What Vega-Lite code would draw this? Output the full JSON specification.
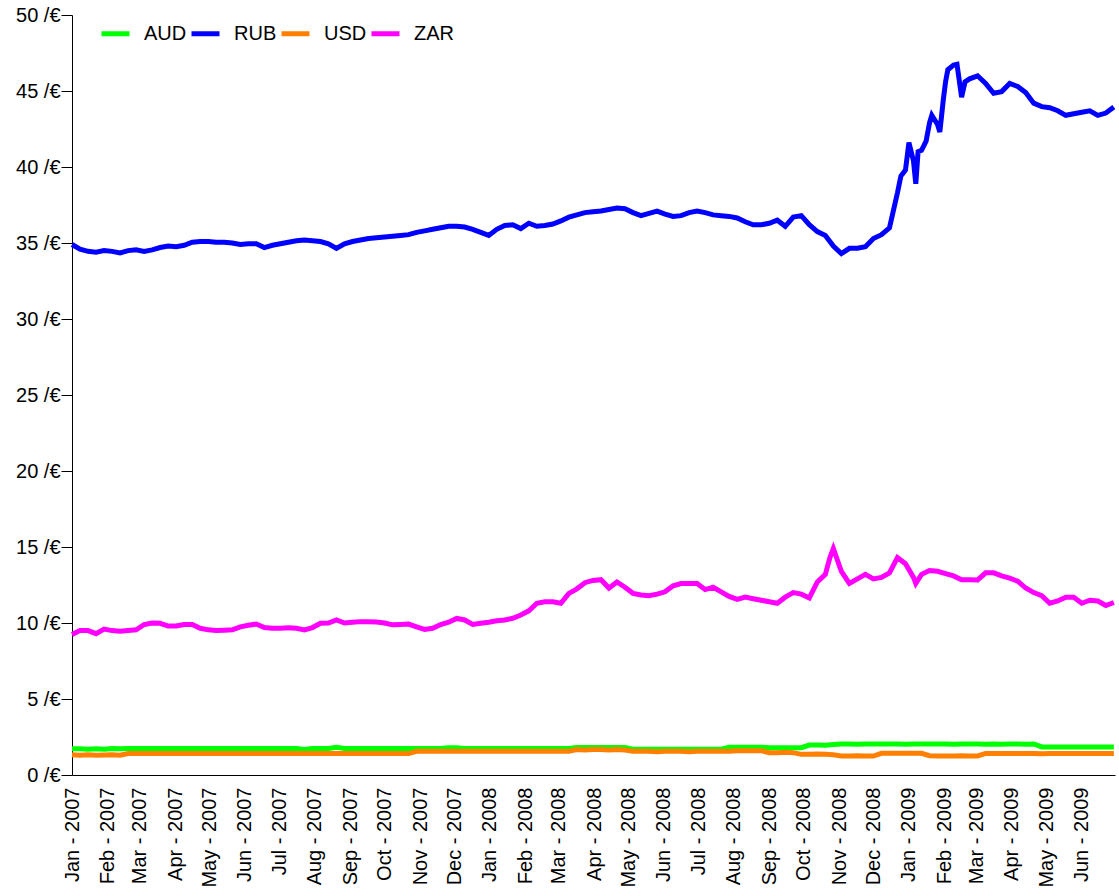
{
"$schema": "https://vega.github.io/schema/vega-lite/v6.json",
"width": 1043, "height": 760,
"autosize": {"type": "none"},
"padding": {"left": 72, "top": 15, "right": 4, "bottom": 121},
"background": "white",
"config": {"view": {"stroke": null}, "font": "Liberation Sans"},
"data": {"values": [
{"d":"2007-01-01","AUD":1.72,"RUB":34.9,"USD":1.33,"ZAR":9.25},
{"d":"2007-01-08","AUD":1.72,"RUB":34.6,"USD":1.30,"ZAR":9.5},
{"d":"2007-01-15","AUD":1.70,"RUB":34.45,"USD":1.33,"ZAR":9.5},
{"d":"2007-01-22","AUD":1.72,"RUB":34.4,"USD":1.30,"ZAR":9.3},
{"d":"2007-01-29","AUD":1.70,"RUB":34.5,"USD":1.31,"ZAR":9.6},
{"d":"2007-02-05","AUD":1.74,"RUB":34.45,"USD":1.33,"ZAR":9.5},
{"d":"2007-02-12","AUD":1.72,"RUB":34.35,"USD":1.30,"ZAR":9.45},
{"d":"2007-02-19","AUD":1.74,"RUB":34.5,"USD":1.41,"ZAR":9.5},
{"d":"2007-02-26","AUD":1.74,"RUB":34.55,"USD":1.41,"ZAR":9.55},
{"d":"2007-03-05","AUD":1.74,"RUB":34.45,"USD":1.41,"ZAR":9.9},
{"d":"2007-03-12","AUD":1.74,"RUB":34.55,"USD":1.41,"ZAR":10.0},
{"d":"2007-03-19","AUD":1.74,"RUB":34.7,"USD":1.41,"ZAR":9.98},
{"d":"2007-03-26","AUD":1.74,"RUB":34.8,"USD":1.41,"ZAR":9.8},
{"d":"2007-04-02","AUD":1.74,"RUB":34.75,"USD":1.41,"ZAR":9.8},
{"d":"2007-04-09","AUD":1.74,"RUB":34.85,"USD":1.41,"ZAR":9.9},
{"d":"2007-04-16","AUD":1.74,"RUB":35.05,"USD":1.41,"ZAR":9.9},
{"d":"2007-04-23","AUD":1.74,"RUB":35.1,"USD":1.41,"ZAR":9.65},
{"d":"2007-04-30","AUD":1.74,"RUB":35.1,"USD":1.41,"ZAR":9.55},
{"d":"2007-05-07","AUD":1.74,"RUB":35.05,"USD":1.41,"ZAR":9.5},
{"d":"2007-05-14","AUD":1.74,"RUB":35.05,"USD":1.41,"ZAR":9.52},
{"d":"2007-05-21","AUD":1.74,"RUB":35.0,"USD":1.41,"ZAR":9.55},
{"d":"2007-05-28","AUD":1.74,"RUB":34.9,"USD":1.41,"ZAR":9.75},
{"d":"2007-06-04","AUD":1.74,"RUB":34.95,"USD":1.41,"ZAR":9.85},
{"d":"2007-06-11","AUD":1.74,"RUB":34.95,"USD":1.41,"ZAR":9.93},
{"d":"2007-06-18","AUD":1.74,"RUB":34.7,"USD":1.41,"ZAR":9.7},
{"d":"2007-06-25","AUD":1.74,"RUB":34.85,"USD":1.41,"ZAR":9.65},
{"d":"2007-07-02","AUD":1.74,"RUB":34.95,"USD":1.41,"ZAR":9.65},
{"d":"2007-07-09","AUD":1.74,"RUB":35.05,"USD":1.41,"ZAR":9.68},
{"d":"2007-07-16","AUD":1.74,"RUB":35.15,"USD":1.41,"ZAR":9.65},
{"d":"2007-07-23","AUD":1.68,"RUB":35.2,"USD":1.41,"ZAR":9.55},
{"d":"2007-07-30","AUD":1.74,"RUB":35.15,"USD":1.41,"ZAR":9.7},
{"d":"2007-08-06","AUD":1.74,"RUB":35.1,"USD":1.41,"ZAR":9.98},
{"d":"2007-08-13","AUD":1.74,"RUB":34.95,"USD":1.41,"ZAR":10.0},
{"d":"2007-08-20","AUD":1.82,"RUB":34.65,"USD":1.41,"ZAR":10.2},
{"d":"2007-08-27","AUD":1.74,"RUB":34.95,"USD":1.41,"ZAR":10.0},
{"d":"2007-09-03","AUD":1.74,"RUB":35.1,"USD":1.41,"ZAR":10.05},
{"d":"2007-09-10","AUD":1.74,"RUB":35.2,"USD":1.41,"ZAR":10.09},
{"d":"2007-09-17","AUD":1.74,"RUB":35.3,"USD":1.41,"ZAR":10.08},
{"d":"2007-09-24","AUD":1.74,"RUB":35.35,"USD":1.41,"ZAR":10.07},
{"d":"2007-10-01","AUD":1.74,"RUB":35.4,"USD":1.41,"ZAR":10.0},
{"d":"2007-10-08","AUD":1.74,"RUB":35.45,"USD":1.41,"ZAR":9.88},
{"d":"2007-10-15","AUD":1.74,"RUB":35.5,"USD":1.41,"ZAR":9.9},
{"d":"2007-10-22","AUD":1.74,"RUB":35.55,"USD":1.41,"ZAR":9.93},
{"d":"2007-10-29","AUD":1.74,"RUB":35.7,"USD":1.56,"ZAR":9.75},
{"d":"2007-11-05","AUD":1.74,"RUB":35.8,"USD":1.56,"ZAR":9.58},
{"d":"2007-11-12","AUD":1.74,"RUB":35.9,"USD":1.56,"ZAR":9.65},
{"d":"2007-11-19","AUD":1.74,"RUB":36.0,"USD":1.56,"ZAR":9.9},
{"d":"2007-11-26","AUD":1.80,"RUB":36.1,"USD":1.56,"ZAR":10.05},
{"d":"2007-12-03","AUD":1.80,"RUB":36.1,"USD":1.56,"ZAR":10.3},
{"d":"2007-12-10","AUD":1.74,"RUB":36.05,"USD":1.56,"ZAR":10.2},
{"d":"2007-12-17","AUD":1.74,"RUB":35.9,"USD":1.56,"ZAR":9.9},
{"d":"2007-12-24","AUD":1.74,"RUB":35.7,"USD":1.56,"ZAR":9.98},
{"d":"2007-12-31","AUD":1.74,"RUB":35.5,"USD":1.56,"ZAR":10.05},
{"d":"2008-01-07","AUD":1.74,"RUB":35.9,"USD":1.56,"ZAR":10.15},
{"d":"2008-01-14","AUD":1.74,"RUB":36.15,"USD":1.56,"ZAR":10.2},
{"d":"2008-01-21","AUD":1.74,"RUB":36.2,"USD":1.56,"ZAR":10.31},
{"d":"2008-01-28","AUD":1.74,"RUB":35.95,"USD":1.56,"ZAR":10.53},
{"d":"2008-02-04","AUD":1.74,"RUB":36.3,"USD":1.56,"ZAR":10.8},
{"d":"2008-02-11","AUD":1.74,"RUB":36.1,"USD":1.56,"ZAR":11.3},
{"d":"2008-02-18","AUD":1.74,"RUB":36.15,"USD":1.56,"ZAR":11.4},
{"d":"2008-02-25","AUD":1.74,"RUB":36.25,"USD":1.56,"ZAR":11.4},
{"d":"2008-03-03","AUD":1.74,"RUB":36.45,"USD":1.56,"ZAR":11.3},
{"d":"2008-03-10","AUD":1.74,"RUB":36.7,"USD":1.56,"ZAR":11.95},
{"d":"2008-03-17","AUD":1.81,"RUB":36.85,"USD":1.67,"ZAR":12.25},
{"d":"2008-03-24","AUD":1.81,"RUB":37.0,"USD":1.64,"ZAR":12.65},
{"d":"2008-03-31","AUD":1.81,"RUB":37.05,"USD":1.67,"ZAR":12.8},
{"d":"2008-04-07","AUD":1.81,"RUB":37.1,"USD":1.67,"ZAR":12.85},
{"d":"2008-04-14","AUD":1.81,"RUB":37.2,"USD":1.64,"ZAR":12.3},
{"d":"2008-04-21","AUD":1.81,"RUB":37.3,"USD":1.67,"ZAR":12.7},
{"d":"2008-04-28","AUD":1.81,"RUB":37.25,"USD":1.64,"ZAR":12.35},
{"d":"2008-05-05","AUD":1.70,"RUB":37.0,"USD":1.56,"ZAR":11.95},
{"d":"2008-05-12","AUD":1.70,"RUB":36.8,"USD":1.56,"ZAR":11.84},
{"d":"2008-05-19","AUD":1.70,"RUB":36.95,"USD":1.56,"ZAR":11.8},
{"d":"2008-05-26","AUD":1.70,"RUB":37.1,"USD":1.53,"ZAR":11.9},
{"d":"2008-06-02","AUD":1.70,"RUB":36.9,"USD":1.56,"ZAR":12.05},
{"d":"2008-06-09","AUD":1.70,"RUB":36.75,"USD":1.56,"ZAR":12.45},
{"d":"2008-06-16","AUD":1.70,"RUB":36.8,"USD":1.56,"ZAR":12.6},
{"d":"2008-06-23","AUD":1.70,"RUB":37.0,"USD":1.53,"ZAR":12.6},
{"d":"2008-06-30","AUD":1.70,"RUB":37.1,"USD":1.56,"ZAR":12.6},
{"d":"2008-07-07","AUD":1.70,"RUB":37.0,"USD":1.56,"ZAR":12.2},
{"d":"2008-07-14","AUD":1.70,"RUB":36.85,"USD":1.56,"ZAR":12.35},
{"d":"2008-07-21","AUD":1.70,"RUB":36.8,"USD":1.56,"ZAR":12.05},
{"d":"2008-07-28","AUD":1.83,"RUB":36.75,"USD":1.56,"ZAR":11.75},
{"d":"2008-08-04","AUD":1.83,"RUB":36.65,"USD":1.60,"ZAR":11.55},
{"d":"2008-08-11","AUD":1.83,"RUB":36.4,"USD":1.60,"ZAR":11.7},
{"d":"2008-08-18","AUD":1.83,"RUB":36.2,"USD":1.60,"ZAR":11.6},
{"d":"2008-08-25","AUD":1.83,"RUB":36.2,"USD":1.60,"ZAR":11.5},
{"d":"2008-09-01","AUD":1.80,"RUB":36.3,"USD":1.47,"ZAR":11.4},
{"d":"2008-09-08","AUD":1.80,"RUB":36.5,"USD":1.47,"ZAR":11.3},
{"d":"2008-09-15","AUD":1.80,"RUB":36.1,"USD":1.50,"ZAR":11.7},
{"d":"2008-09-22","AUD":1.80,"RUB":36.7,"USD":1.47,"ZAR":12.0},
{"d":"2008-09-29","AUD":1.80,"RUB":36.8,"USD":1.36,"ZAR":11.9},
{"d":"2008-10-06","AUD":1.97,"RUB":36.2,"USD":1.36,"ZAR":11.65},
{"d":"2008-10-13","AUD":1.97,"RUB":35.75,"USD":1.38,"ZAR":12.7},
{"d":"2008-10-20","AUD":1.95,"RUB":35.5,"USD":1.36,"ZAR":13.2},
{"d":"2008-10-24","ZAR":14.3},
{"d":"2008-10-27","AUD":2.0,"RUB":34.8,"USD":1.33,"ZAR":14.9},
{"d":"2008-11-03","AUD":2.04,"RUB":34.3,"USD":1.25,"ZAR":13.4},
{"d":"2008-11-10","AUD":2.04,"RUB":34.65,"USD":1.25,"ZAR":12.6},
{"d":"2008-11-17","AUD":2.02,"RUB":34.65,"USD":1.27,"ZAR":12.9},
{"d":"2008-11-24","AUD":2.04,"RUB":34.75,"USD":1.25,"ZAR":13.2},
{"d":"2008-12-01","AUD":2.04,"RUB":35.3,"USD":1.25,"ZAR":12.9},
{"d":"2008-12-08","AUD":2.04,"RUB":35.55,"USD":1.43,"ZAR":13.0},
{"d":"2008-12-15","AUD":2.04,"RUB":36.0,"USD":1.43,"ZAR":13.3},
{"d":"2008-12-22","AUD":2.04,"RUB":38.3,"USD":1.43,"ZAR":14.3},
{"d":"2008-12-25","RUB":39.4},
{"d":"2008-12-29","AUD":2.02,"RUB":39.8,"USD":1.43,"ZAR":13.9},
{"d":"2009-01-01","RUB":41.6},
{"d":"2009-01-05","AUD":2.04,"RUB":40.4,"USD":1.43,"ZAR":13.0},
{"d":"2009-01-07","RUB":38.9,"ZAR":12.6},
{"d":"2009-01-09","RUB":41.0},
{"d":"2009-01-12","AUD":2.04,"RUB":41.1,"USD":1.43,"ZAR":13.2},
{"d":"2009-01-16","RUB":41.7},
{"d":"2009-01-19","AUD":2.04,"RUB":42.9,"USD":1.27,"ZAR":13.45},
{"d":"2009-01-21","RUB":43.4},
{"d":"2009-01-26","AUD":2.04,"RUB":42.8,"USD":1.25,"ZAR":13.4},
{"d":"2009-01-28","RUB":42.3},
{"d":"2009-01-31","RUB":44.4},
{"d":"2009-02-02","AUD":2.04,"RUB":45.6,"USD":1.25,"ZAR":13.25},
{"d":"2009-02-04","RUB":46.4},
{"d":"2009-02-09","AUD":2.02,"RUB":46.7,"USD":1.25,"ZAR":13.1},
{"d":"2009-02-12","RUB":46.75},
{"d":"2009-02-16","AUD":2.04,"RUB":44.6,"USD":1.27,"ZAR":12.85},
{"d":"2009-02-19","RUB":45.6},
{"d":"2009-02-23","AUD":2.04,"RUB":45.8,"USD":1.25,"ZAR":12.85},
{"d":"2009-03-02","AUD":2.04,"RUB":46.0,"USD":1.25,"ZAR":12.83},
{"d":"2009-03-09","AUD":2.02,"RUB":45.5,"USD":1.42,"ZAR":13.3},
{"d":"2009-03-16","AUD":2.04,"RUB":44.85,"USD":1.42,"ZAR":13.3},
{"d":"2009-03-23","AUD":2.02,"RUB":44.96,"USD":1.42,"ZAR":13.1},
{"d":"2009-03-30","AUD":2.04,"RUB":45.5,"USD":1.42,"ZAR":12.95},
{"d":"2009-04-06","AUD":2.04,"RUB":45.3,"USD":1.42,"ZAR":12.75},
{"d":"2009-04-13","AUD":2.02,"RUB":44.9,"USD":1.42,"ZAR":12.3},
{"d":"2009-04-20","AUD":2.04,"RUB":44.2,"USD":1.42,"ZAR":12.0},
{"d":"2009-04-27","AUD":1.85,"RUB":43.97,"USD":1.40,"ZAR":11.8},
{"d":"2009-05-04","AUD":1.85,"RUB":43.9,"USD":1.42,"ZAR":11.3},
{"d":"2009-05-11","AUD":1.85,"RUB":43.7,"USD":1.42,"ZAR":11.45},
{"d":"2009-05-18","AUD":1.85,"RUB":43.4,"USD":1.42,"ZAR":11.7},
{"d":"2009-05-25","AUD":1.85,"RUB":43.5,"USD":1.42,"ZAR":11.7},
{"d":"2009-06-01","AUD":1.85,"RUB":43.6,"USD":1.42,"ZAR":11.3},
{"d":"2009-06-08","AUD":1.85,"RUB":43.7,"USD":1.42,"ZAR":11.5},
{"d":"2009-06-15","AUD":1.85,"RUB":43.4,"USD":1.42,"ZAR":11.45},
{"d":"2009-06-22","AUD":1.85,"RUB":43.55,"USD":1.42,"ZAR":11.15},
{"d":"2009-06-29","AUD":1.85,"RUB":43.95,"USD":1.42,"ZAR":11.35}
]},
"transform": [
  {"fold": ["AUD", "RUB", "USD", "ZAR"], "as": ["currency", "value"]},
  {"filter": "isValid(datum.value)"}
],
"mark": {"type": "line", "strokeWidth": 5, "interpolate": "linear"},
"encoding": {
  "x": {"field": "d", "type": "temporal",
    "scale": {"domain": ["2007-01-01", "2009-06-30"]},
    "axis": {"title": null, "format": "%b - %Y", "labelAngle": -90,
      "tickCount": {"interval": "month", "step": 1}, "ticks": false,
      "labelPadding": 12, "grid": false, "domainColor": "black",
      "labelFontSize": 20, "labelColor": "black", "labelOverlap": false,
      "labelFlush": false, "labelFont": "Liberation Sans"}},
  "y": {"field": "value", "type": "quantitative",
    "scale": {"domain": [0, 50], "nice": false},
    "axis": {"title": null, "values": [0, 5, 10, 15, 20, 25, 30, 35, 40, 45, 50],
      "labelExpr": "datum.label + ' /€'", "grid": false, "tickSize": 11,
      "labelPadding": 1, "domainColor": "black", "tickColor": "black",
      "labelFontSize": 20, "labelColor": "black", "labelFont": "Liberation Sans"}},
  "color": {"field": "currency", "type": "nominal",
    "scale": {"domain": ["AUD", "RUB", "USD", "ZAR"], "range": ["#00ff00", "#0000ff", "#ff8000", "#ff00ff"]},
    "legend": {"title": null, "orient": "none", "legendX": 27, "legendY": 2,
      "direction": "horizontal", "symbolType": "stroke", "symbolSize": 784,
      "symbolStrokeWidth": 5, "labelFontSize": 20, "labelOffset": 12,
      "columnPadding": -6, "labelColor": "black", "padding": 0, "labelFont": "Liberation Sans"}}
}
}
